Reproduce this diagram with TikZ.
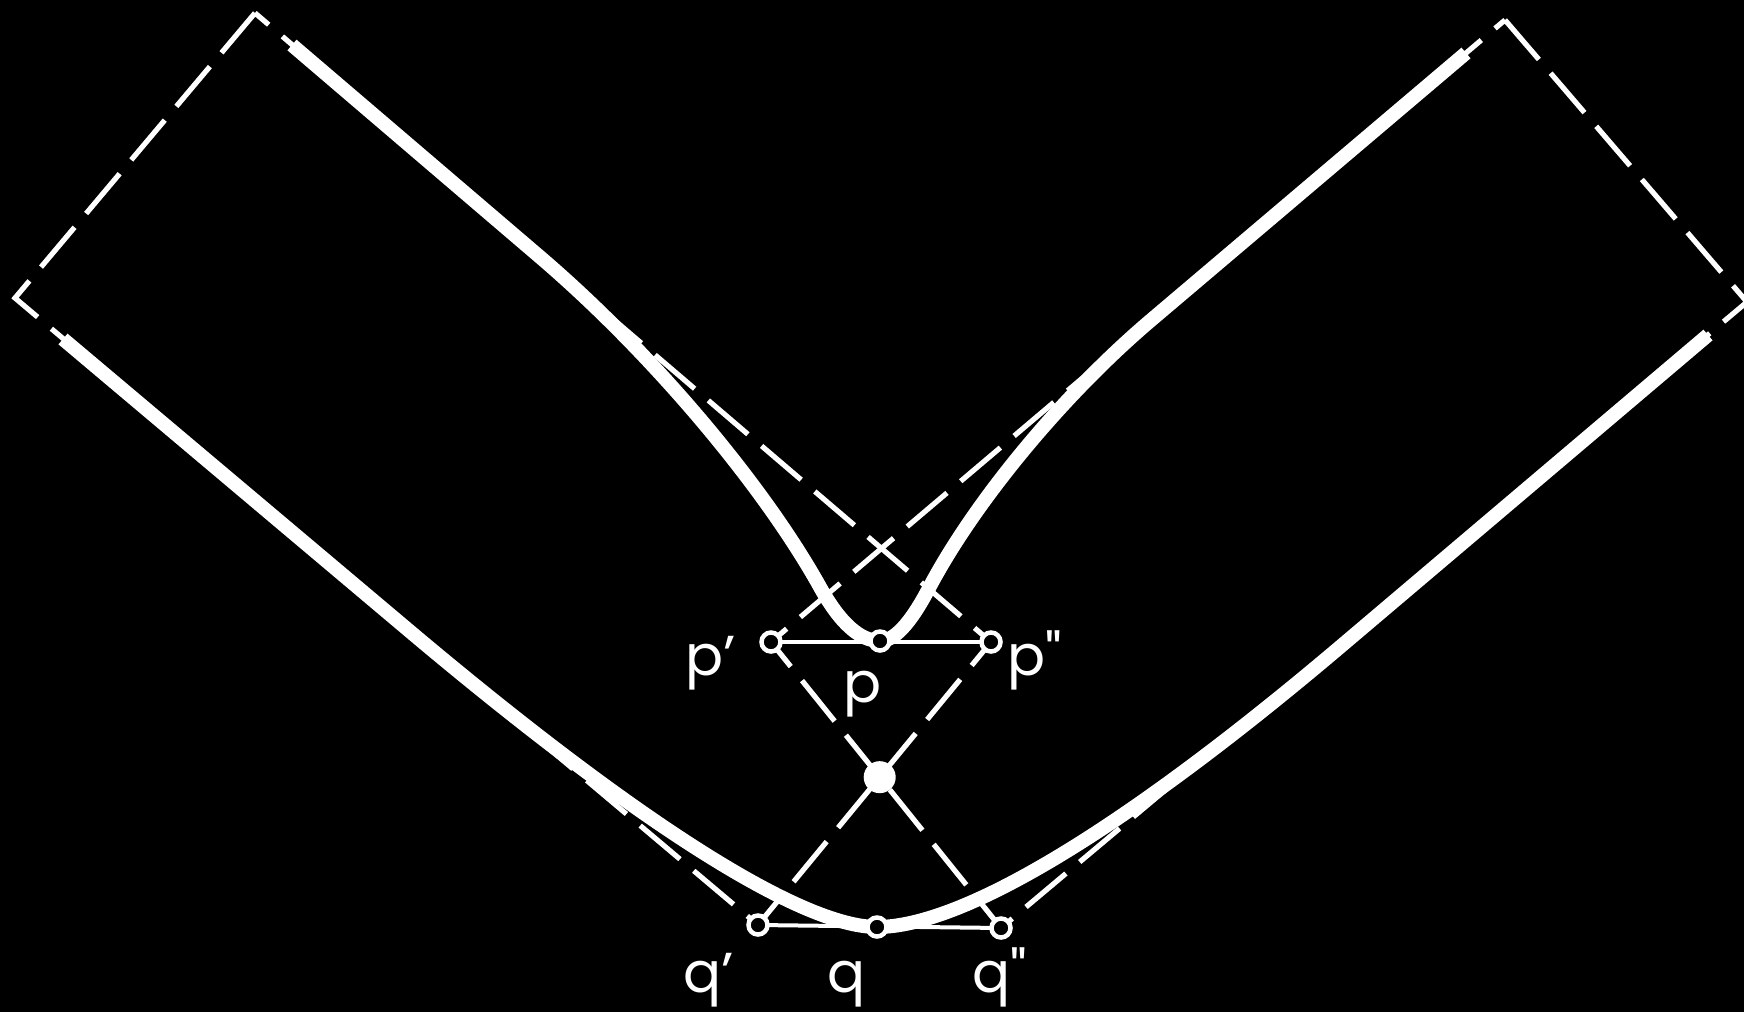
\documentclass[tikz,border=0pt]{standalone}
\usepackage{fontspec}
\setmainfont{Poppins}[Ligatures=TeXOff]
\usetikzlibrary{positioning}
\tikzset{
  bnd/.style={white, line width=0.052cm, dash pattern=on 0.52cm off 0.18cm},
  wline/.style={white, line width=0.14cm, line join=round},
  chord/.style={white, line width=0.04cm},
  ptm/.style={circle, draw=white, fill=black, line width=0.045cm, minimum size=0.19cm, inner sep=0pt},
  ctr/.style={circle, fill=white, minimum size=0.32cm, inner sep=0pt},
  lbl/.style={text=white, font=\fontsize{16}{19}\selectfont, anchor=base},
}

\begin{document}
\begin{tikzpicture}[x=0.01cm, y=-0.01cm]
\fill[black] (0,0) rectangle (1744,1012);
\useasboundingbox (0,0) rectangle (1744,1012);
\coordinate (Lt) at (255,13);
\coordinate (Ll) at (15,298);
\coordinate (Rt) at (1505,20);
\coordinate (Rr) at (1747,302);
\coordinate (pl) at (771,642);
\coordinate (p) at (880,641);
\coordinate (pr) at (991,642);
\coordinate (ql) at (758,925);
\coordinate (q) at (877,927);
\coordinate (qr) at (1001,928);
\coordinate (x0) at (intersection of pl--qr and ql--pr);
\draw[bnd] (Lt) -- (Ll) -- (ql) -- (pr) -- cycle;
\draw[bnd] (Rt) -- (Rr) -- (qr) -- (pl) -- cycle;
\draw[chord] (pl) -- (pr);
\draw[chord] (ql) -- (qr);
\draw[wline] (292,45) -- (540,257) .. controls (650,351) and (762,483) .. (820,587)
  .. controls (840,623) and (860,641) .. (p)
  .. controls (894,641) and (910,624) .. (928,590)
  .. controls (974,502) and (1063,395) .. (1150,321) -- (1466,53);
\draw[wline] (63,339) -- (400,623) .. controls (634,821) and (801,927) .. (q)
  .. controls (963,927) and (1125,829) .. (1340,647) -- (1708,335);
\node[ptm] (mpl) at (pl) {};
\node[ptm] (mp) at (p) {};
\node[ptm] (mpr) at (pr) {};
\node[ptm] (mql) at (ql) {};
\node[ptm] (mq) at (q) {};
\node[ptm] (mqr) at (qr) {};
\node[ctr] (mx0) at (x0) {};
\node[lbl] (lpl) at (711,675) {p’};
\node[lbl] (lp) at (863,702) {p};
\node[lbl] (lpr) at (1035,675) {p"};
\node[lbl] (lql) at (709,992) {q’};
\node[lbl] (lq) at (847,992) {q};
\node[lbl] (lqr) at (1000,992) {q"};
\end{tikzpicture}
\end{document}
